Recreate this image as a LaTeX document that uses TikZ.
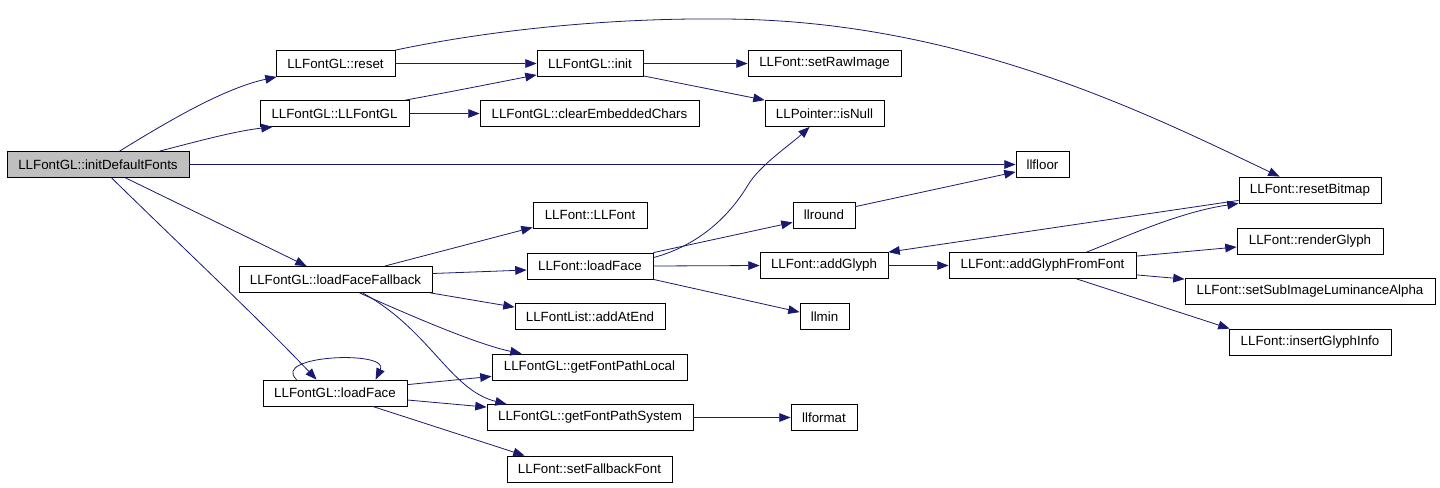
\documentclass[tikz,border=0pt]{standalone}
\usepackage{fontspec}
\setmainfont{Liberation Sans}
\usetikzlibrary{arrows.meta,calc}
\definecolor{edgec}{HTML}{191970}
\definecolor{grayf}{HTML}{BFBFBF}
\begin{document}
\begin{tikzpicture}[x=0.75pt,y=-0.75pt,
  box/.style={draw=black,fill=white,line width=0.6pt,minimum height=19.5pt,inner sep=0pt,font=\fontsize{10}{12}\selectfont},
  w/.style={minimum width=#1},
  link/.style={draw=edgec,line width=0.6pt,-{Triangle[length=8.5pt,width=6.5pt]}}]
\useasboundingbox (0,0) rectangle (1440,487);
\fill[white] (0,0) rectangle (1440,487);
% nodes
\node[box,w=136.5pt,fill=grayf] (df) at (98,164.5) {LLFontGL::initDefaultFonts};
\node[box,w=89.25pt] (reset) at (335.5,63.5) {LLFontGL::reset};
\node[box,w=111.75pt] (ctor) at (334.5,113.5) {LLFontGL::LLFontGL};
\node[box,w=79.5pt] (init) at (590,63.5) {LLFontGL::init};
\node[box,w=114.75pt] (setRaw) at (824.5,63.5) {LLFont::setRawImage};
\node[box,w=164.25pt] (clearEC) at (589.5,113.5) {LLFontGL::clearEmbeddedChars};
\node[box,w=89.25pt] (isNull) at (824.5,113.5) {LLPointer::isNull};
\node[box,w=85.5pt] (llfont) at (590,215) {LLFont::LLFont};
\node[box,w=46.5pt] (llround) at (824,215) {llround};
\node[box,w=39.75pt] (llfloor) at (1042.5,164.5) {llfloor};
\node[box,w=106.5pt] (resetBitmap) at (1310,190) {LLFont::resetBitmap};
\node[box,w=109.5pt] (renderGlyph) at (1310,241) {LLFont::renderGlyph};
\node[box,w=140.25pt] (addGFF) at (1042.5,265.5) {LLFont::addGlyphFromFont};
\node[box,w=187.5pt] (setSub) at (1310,291.5) {LLFont::setSubImageLuminanceAlpha};
\node[box,w=121.5pt] (insertGI) at (1310,342) {LLFont::insertGlyphInfo};
\node[box,w=144.75pt] (lff) at (335.5,279.5) {LLFontGL::loadFaceFallback};
\node[box,w=94.5pt] (lfloadFace) at (590,266) {LLFont::loadFace};
\node[box,w=112.5pt] (addAtEnd) at (590,316.5) {LLFontList::addAtEnd};
\node[box,w=146.25pt] (gfpl) at (589.5,367) {LLFontGL::getFontPathLocal};
\node[box,w=108pt] (glLF) at (335,393) {LLFontGL::loadFace};
\node[box,w=154.5pt] (gfps) at (590,417.5) {LLFontGL::getFontPathSystem};
\node[box,w=123.75pt] (setFallback) at (589.5,469) {LLFont::setFallbackFont};
\node[box,w=49.5pt] (llformat) at (824,417.5) {llformat};
\node[box,w=96pt] (addGlyph) at (824,265.5) {LLFont::addGlyph};
\node[box,w=36.75pt] (llmin) at (824.5,316.5) {llmin};
% edges
\draw[link] ($(df.north west)+(113,0)$) .. controls (170,120) and (225,88) .. ($(reset.south west)+(1,0)$);
\draw[link] ($(df.north west)+(153,0)$) .. controls (195,142) and (235,131) .. ($(ctor.south west)+(13,0)$);
\draw[link] (df.east) -- (llfloor.west);
\draw[link] ($(df.south west)+(119,0)$) -- ($(lff.north west)+(68,0)$);
\draw[link] ($(df.south west)+(105,0)$) .. controls (180,245) and (260,320) .. ($(glLF.north west)+(54,0)$);
\draw[link] (reset.east) -- (init.west);
\draw[link] (reset.north east) .. controls (500,28) and (620,18) .. (720,19) .. controls (960,19) and (1150,115) .. ($(resetBitmap.north west)+(41,0)$);
\draw[link] ($(ctor.north east)+(-4,0)$) .. controls (450,92) and (500,82) .. ($(init.south west)+(0,-2)$);
\draw[link] (ctor.east) -- (clearEC.west);
\draw[link] (init.east) -- (setRaw.west);
\draw[link] ($(init.south east)+(0,-1)$) -- (isNull.north west);
\draw[link] ($(lff.north west)+(146,0)$) -- ($(llfont.south west)+(0,-1)$);
\draw[link] ($(lff.east)+(0,-6)$) -- ($(lfloadFace.west)+(0,4)$);
\draw[link] ($(lff.south east)+(-2,0)$) -- ($(addAtEnd.north west)+(0,4)$);
\draw[link] ($(lff.south west)+(121,0)$) .. controls (420,320) and (480,345) .. ($(gfpl.north west)+(30,0)$);
\draw[link] ($(lff.south west)+(124,0)$) .. controls (430,330) and (450,390) .. ($(gfps.north west)+(20,0)$);
\draw[link] ($(glLF.north west)+(34,0)$) .. controls (270,355) and (390,350) .. ($(glLF.north west)+(113,0)$);
\draw[link] ($(glLF.north east)+(0,5)$) -- ($(gfpl.south west)+(0,-4)$);
\draw[link] ($(glLF.east)+(0,7)$) -- ($(gfps.north west)+(0,3)$);
\draw[link] ($(glLF.south west)+(110,0)$) -- ($(setFallback.north west)+(18,0)$);
\draw[link] ($(lfloadFace.north east)+(0,5)$) .. controls (700,245) and (730,215) .. (748,185) .. controls (760,165) and (790,145) .. ($(isNull.south west)+(45,0)$);
\draw[link] (lfloadFace.north east) -- ($(llround.south west)+(0,-6)$);
\draw[link] (lfloadFace.east) -- (addGlyph.west);
\draw[link] (lfloadFace.south east) -- ($(llmin.north west)+(0,9)$);
\draw[link] ($(llround.north east)+(0,5)$) -- ($(llfloor.south west)+(0,-6)$);
\draw[link] (gfps.east) -- (llformat.west);
\draw[link] (addGlyph.east) -- (addGFF.west);
\draw[link] ($(addGFF.north west)+(138,0)$) .. controls (1130,235) and (1180,212) .. (resetBitmap.south west);
\draw[link] ($(resetBitmap.south west)+(0,-3)$) -- (addGlyph.north east);
\draw[link] ($(addGFF.north east)+(0,4)$) -- ($(renderGlyph.west)+(0,6)$);
\draw[link] ($(addGFF.south east)+(0,-4)$) -- ($(setSub.north west)+(0,1)$);
\draw[link] ($(addGFF.south west)+(128,0)$) -- ($(insertGI.north west)+(1,0)$);
\end{tikzpicture}
\end{document}
